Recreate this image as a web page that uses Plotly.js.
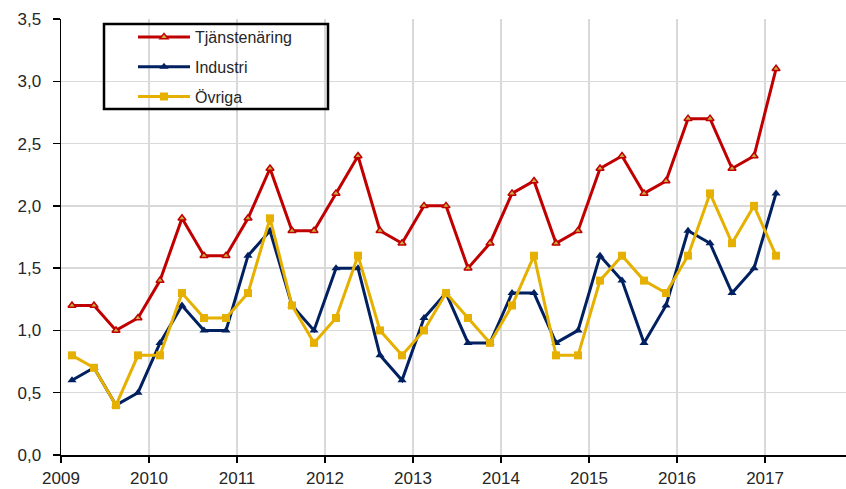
<!DOCTYPE html>
<html><head><meta charset="utf-8">
<script src="https://cdn.plot.ly/plotly-3.0.1.min.js"></script>
<style>html,body{margin:0;padding:0;background:#fff}#chart{width:846px;height:489px}</style>
</head><body><div id="chart"></div>
<script>
const quarters = [
  "2009K1","2009K2","2009K3","2009K4","2010K1","2010K2","2010K3","2010K4",
  "2011K1","2011K2","2011K3","2011K4","2012K1","2012K2","2012K3","2012K4",
  "2013K1","2013K2","2013K3","2013K4","2014K1","2014K2","2014K3","2014K4",
  "2015K1","2015K2","2015K3","2015K4","2016K1","2016K2","2016K3","2016K4","2017K1"
];
const tjanstenaring = [1.2,1.2,1.0,1.1, 1.4,1.9,1.6,1.6, 1.9,2.3,1.8,1.8, 2.1,2.4,1.8,1.7,
  2.0,2.0,1.5,1.7, 2.1,2.2,1.7,1.8, 2.3,2.4,2.1,2.2, 2.7,2.7,2.3,2.4, 3.1];
const industri = [0.6,0.7,0.4,0.5, 0.9,1.2,1.0,1.0, 1.6,1.8,1.2,1.0, 1.5,1.5,0.8,0.6,
  1.1,1.3,0.9,0.9, 1.3,1.3,0.9,1.0, 1.6,1.4,0.9,1.2, 1.8,1.7,1.3,1.5, 2.1];
const ovriga = [0.8,0.7,0.4,0.8, 0.8,1.3,1.1,1.1, 1.3,1.9,1.2,0.9, 1.1,1.6,1.0,0.8,
  1.0,1.3,1.1,0.9, 1.2,1.6,0.8,0.8, 1.4,1.6,1.4,1.3, 1.6,2.1,1.7,2.0, 1.6];
const yearTicks = [2009,2010,2011,2012,2013,2014,2015,2016,2017];
const yTicks = [0,0.5,1,1.5,2,2.5,3,3.5];

// quarter label -> position on a continuous year axis (mid-quarter)
const xs = quarters.map(q => parseInt(q.slice(0,4)) + (parseInt(q.slice(5)) - 1) * 0.25 + 0.125);

const FONT = '"Liberation Sans",Arial,sans-serif';

const traces = [
  {x: xs, y: tjanstenaring, name: "Tjänstenäring", mode: "lines+markers", legendgroup: "a",
   line: {color: "#C00000", width: 3},
   marker: {symbol: "triangle-up", size: 7, color: "#C8B040", line: {color: "#C00000", width: 1.5}}},
  {x: xs, y: industri, name: "Industri", mode: "lines+markers", legendgroup: "b",
   line: {color: "#002060", width: 3},
   marker: {symbol: "triangle-up", size: 8, color: "#002060"}},
  {x: xs, y: ovriga, name: "Övriga", mode: "lines+markers", legendgroup: "c",
   line: {color: "#E6B000", width: 3},
   marker: {symbol: "square", size: 8, color: "#E6B000"}}
];

const layout = {
  width: 846, height: 489,
  margin: {l: 61, r: 0, t: 19, b: 34},
  paper_bgcolor: "#fff", plot_bgcolor: "#fff",
  separators: ", ",
  font: {family: FONT, size: 17, color: "#262626"},
  showlegend: true,
  legend: {x: (138 - 61 - 5) / 785, y: 0.9977, xanchor: "left", yanchor: "top",
    bgcolor: "rgba(0,0,0,0)", borderwidth: 0, traceorder: "grouped", tracegroupgap: 6,
    itemwidth: 52,
    font: {family: FONT, size: 16, color: "#262626"}},
  shapes: [{type: "rect", xref: "paper", yref: "paper",
    x0: (104-61)/785, x1: (328-61)/785, y0: (455-109)/436, y1: (455-24)/436,
    line: {color: "#000", width: 2.5}, fillcolor: "rgba(0,0,0,0)", layer: "above"}],
  xaxis: {range: [2009, 2017.92], tickvals: yearTicks, ticktext: yearTicks.map(String),
    showgrid: true, gridcolor: "#d9d9d9", gridwidth: 1.5,
    showline: true, linecolor: "#000", linewidth: 1.5,
    ticks: "outside", ticklen: 6, tickcolor: "#000", tickwidth: 1.5,
    ticklabelstandoff: 1,
    zeroline: false, fixedrange: true},
  yaxis: {range: [0, 3.5], tickvals: yTicks, tickformat: ".1f",
    showgrid: true, gridcolor: "#d9d9d9", gridwidth: 1.5,
    showline: true, linecolor: "#000", linewidth: 1.5,
    ticks: "outside", ticklen: 7, tickcolor: "#000", tickwidth: 1.5,
    ticklabelstandoff: 8,
    zeroline: false, fixedrange: true}
};

Plotly.newPlot("chart", traces, layout, {displayModeBar: false, staticPlot: true});
</script></body></html>
